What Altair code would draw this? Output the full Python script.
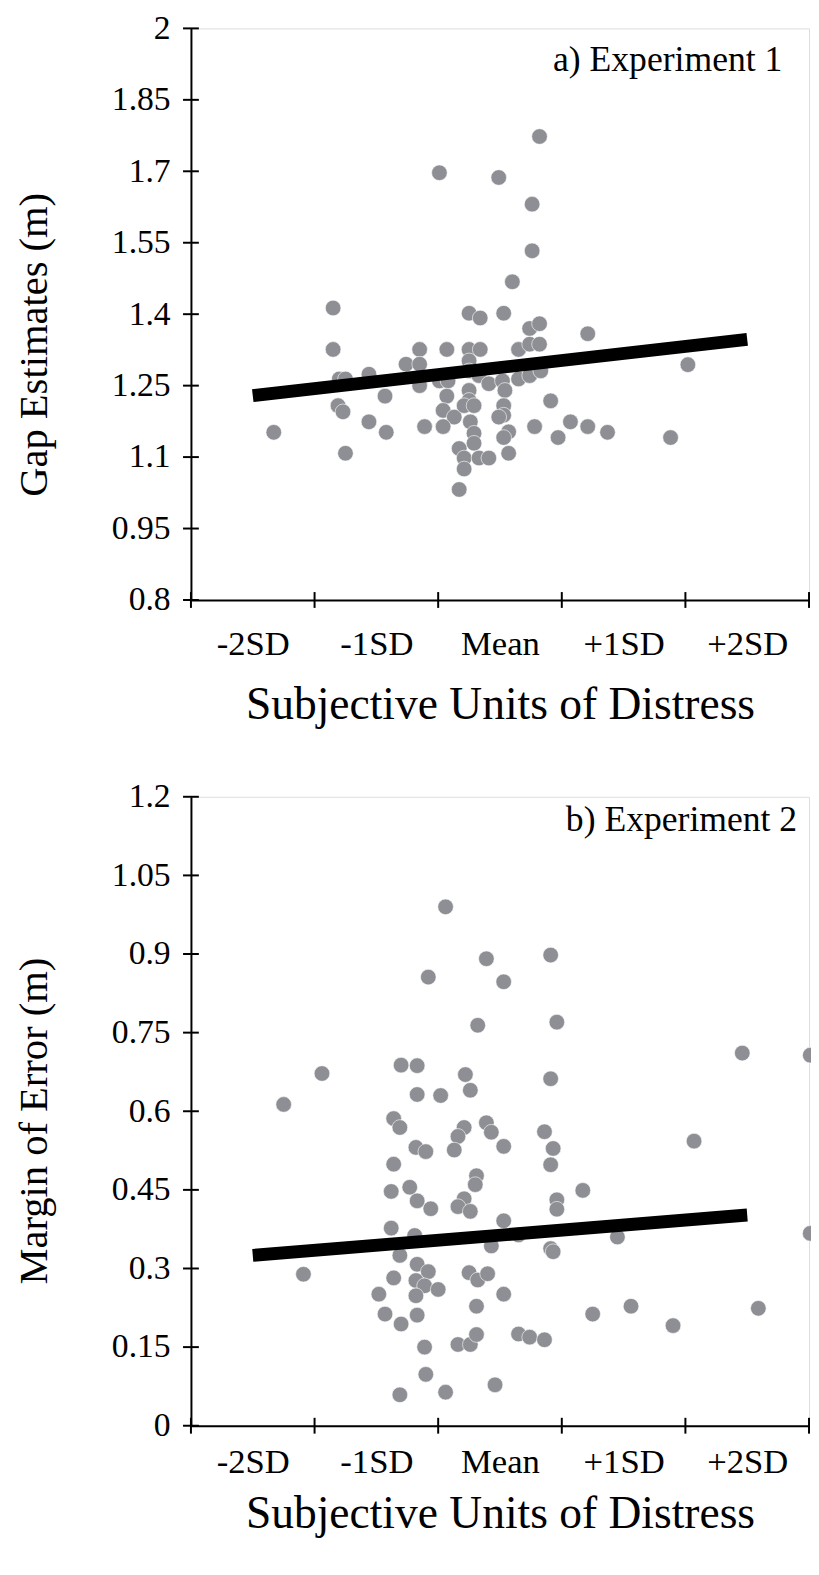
import altair as alt
import pandas as pd

# ---------------- data ----------------
exp1_sd = [-0.49, -0.01, 0.32, 0.26, 0.26, 0.10, -1.35, -0.25, -0.16, 0.03,
           0.24, 0.32, 0.71, -1.35, -0.65, -0.43, -0.25, -0.16, 0.15, 0.24,
           0.32, 1.52, -0.76, -0.65, -0.25, -1.30, -1.25, -1.06, -0.65, -0.49,
           -0.42, -0.25, -0.25, -0.25, -0.17, -0.09, 0.02, 0.04, 0.15, 0.24,
           0.33, -0.93, -0.43, 0.41, -1.31, -1.27, -1.06, -0.46, -0.37, -0.29,
           -0.21, 0.03, 0.03, -0.01, -1.83, -0.92, -0.61, -0.46, -0.24, -0.21,
           -0.21, 0.28, 0.57, 0.71, 0.87, 0.47, 1.38, 0.07, 0.03, -0.33,
           -1.25, 0.07, -0.29, -0.17, -0.09, -0.29, -0.33]
exp1_gap = [1.697, 1.687, 1.773, 1.631, 1.533, 1.468, 1.413, 1.402, 1.392, 1.402,
            1.370, 1.380, 1.359, 1.326, 1.326, 1.326, 1.326, 1.326, 1.326, 1.337,
            1.337, 1.294, 1.295, 1.295, 1.302, 1.264, 1.264, 1.274, 1.250, 1.260,
            1.260, 1.281, 1.240, 1.219, 1.271, 1.254, 1.260, 1.240, 1.264, 1.271,
            1.281, 1.228, 1.228, 1.218, 1.208, 1.195, 1.174, 1.198, 1.184, 1.208,
            1.208, 1.208, 1.188, 1.184, 1.152, 1.152, 1.164, 1.164, 1.174, 1.150,
            1.129, 1.164, 1.174, 1.164, 1.152, 1.141, 1.141, 1.153, 1.141, 1.118,
            1.108, 1.108, 1.098, 1.098, 1.098, 1.075, 1.032]

exp2_sd = [-0.44, -0.11, -0.58, 0.03, 0.41, -0.18, 0.46, 1.96, 2.51, -1.44,
           -0.80, -0.67, -0.28, 0.41, -1.75, -0.67, -0.48, -0.24, -0.86, -0.81,
           -0.29, -0.34, -0.37, -0.11, -0.07, 0.03, -0.68, -0.60, 0.36, 0.43,
           1.57, -0.86, 0.41, -0.19, -0.20, -0.73, -0.88, 0.67, -0.67, -0.56,
           -0.29, -0.34, -0.24, 0.46, 0.46, 0.03, -0.88, -0.69, 0.15, -0.07,
           0.41, 0.43, 0.95, 2.51, -0.81, -1.59, -0.67, -0.58, -0.68, -0.86,
           -0.61, -0.68, -0.50, -0.25, -0.18, -0.10, -0.98, 0.03, -0.93, -0.80,
           -0.67, -0.19, 0.75, 1.06, 1.40, 2.09, -0.61, -0.34, -0.24, -0.19,
           0.15, 0.24, 0.36, -0.60, -0.81, -0.44, -0.04]
exp2_moe = [0.990, 0.891, 0.856, 0.847, 0.898, 0.764, 0.770, 0.711, 0.707, 0.672,
            0.688, 0.687, 0.670, 0.662, 0.613, 0.632, 0.630, 0.640, 0.586, 0.569,
            0.569, 0.552, 0.526, 0.578, 0.560, 0.533, 0.531, 0.523, 0.561, 0.529,
            0.543, 0.499, 0.498, 0.477, 0.460, 0.455, 0.447, 0.449, 0.429, 0.414,
            0.433, 0.418, 0.409, 0.431, 0.413, 0.391, 0.377, 0.363, 0.364, 0.343,
            0.338, 0.332, 0.360, 0.367, 0.325, 0.289, 0.308, 0.294, 0.277, 0.282,
            0.267, 0.248, 0.260, 0.292, 0.278, 0.290, 0.251, 0.251, 0.213, 0.194,
            0.211, 0.228, 0.213, 0.228, 0.191, 0.224, 0.150, 0.155, 0.155, 0.174,
            0.175, 0.169, 0.164, 0.098, 0.059, 0.064, 0.078]

fit1_sd = [-2, 2]
fit1_gap = [1.229, 1.347]
fit2_sd = [-2, 2]
fit2_moe = [0.325, 0.402]

x_tick_pos = [-2.5, -1.5, -0.5, 0.5, 1.5, 2.5]
x_label_pos = [-2, -1, 0, 1, 2]
x_labels = ["-2SD", "-1SD", "Mean", "+1SD", "+2SD"]
y1_ticks = [0.8, 0.95, 1.1, 1.25, 1.4, 1.55, 1.7, 1.85, 2.0]
y2_ticks = [0.0, 0.15, 0.3, 0.45, 0.6, 0.75, 0.9, 1.05, 1.2]

x_title = "Subjective Units of Distress"
y1_title = "Gap Estimates (m)"
y2_title = "Margin of Error (m)"
panel1_label = "a) Experiment 1"
panel2_label = "b) Experiment 2"

# ---------------- styling ----------------
FONT = "Liberation Serif"
DOT = "#8e8f94"
W = 625

label_expr = " : ".join(
    f"datum.value == {p} ? '{t}'" for p, t in zip(x_label_pos, x_labels)
) + " : ''"


def panel(sd, vals, fit_sd, fit_vals, y_ticks, y_title, label, H,
          lab_pad, title_pad, ytitle_y, ann_x, ann_y):
    pts = pd.DataFrame({"sd": sd, "v": vals})
    fit = pd.DataFrame({"sd": fit_sd, "v": fit_vals})
    xt = pd.DataFrame({"sd": x_tick_pos})
    yt = pd.DataFrame({"v": y_ticks})
    ann = pd.DataFrame({"t": [label]})
    ytt = pd.DataFrame({"t": [y_title]})

    xs = alt.Scale(domain=[x_tick_pos[0], x_tick_pos[-1]], nice=False, zero=False)
    ys = alt.Scale(domain=[y_ticks[0], y_ticks[-1]], nice=False, zero=False)

    xaxis = alt.Axis(values=x_label_pos, labelExpr=label_expr, ticks=False,
                     tickSize=0, grid=False, domain=True, domainColor="black",
                     domainWidth=2, labelFont=FONT, labelFontSize=35,
                     labelColor="black", labelPadding=lab_pad, title=x_title,
                     titleFont=FONT, titleFontSize=46, titleFontWeight="normal",
                     titleColor="black", titlePadding=title_pad,
                     minExtent=60, maxExtent=60)
    yaxis = alt.Axis(values=y_ticks, format=".3~g", ticks=False, tickSize=0,
                     grid=False, domain=True, domainColor="black", domainWidth=2,
                     labelFont=FONT, labelFontSize=34, labelColor="black",
                     labelPadding=21, title=None)

    xenc = alt.X("sd:Q", scale=xs, axis=xaxis)
    yenc = alt.Y("v:Q", scale=ys, axis=yaxis)

    points = alt.Chart(pts).mark_circle(
        size=250, color=DOT, opacity=1, stroke="white", strokeWidth=0.6
    ).encode(x=xenc, y=yenc)
    line = alt.Chart(fit).mark_line(
        color="black", strokeWidth=13, strokeCap="butt").encode(x=xenc, y=yenc)
    yticks = alt.Chart(yt).mark_tick(
        color="black", size=16, thickness=2, opacity=1).encode(
        y=yenc, x=alt.value(0))
    xticks = alt.Chart(xt).mark_tick(
        color="black", size=16, thickness=2, opacity=1).encode(
        x=xenc, y=alt.value(H))
    text = alt.Chart(ann).mark_text(
        align="right", baseline="alphabetic", font=FONT, fontSize=36,
        color="black").encode(x=alt.value(ann_x), y=alt.value(ann_y),
                              text="t:N")
    ytitle = alt.Chart(ytt).mark_text(
        angle=270, align="center", baseline="alphabetic", font=FONT,
        fontSize=41, color="black").encode(
        x=alt.value(-146), y=alt.value(ytitle_y), text="t:N")
    return alt.layer(points, line, yticks, xticks, text, ytitle).properties(
        width=W, height=H)


pa = panel(exp1_sd, exp1_gap, fit1_sd, fit1_gap, y1_ticks, y1_title,
           panel1_label, 578, 27, 24, 320, 598, 43)
pb = panel(exp2_sd, exp2_moe, fit2_sd, fit2_moe, y2_ticks, y2_title,
           panel2_label, 636, 19, 7, 328, 613, 35)

# the two right-most dots of panel b sit on the page edge and are cut by it,
# as in the reference: the negative right padding trims the view there
chart = alt.vconcat(pa, pb, spacing=51).properties(
    padding={"left": 5, "top": -6, "right": -9, "bottom": 0}
).configure_view(stroke=None).configure(background="white")

chart.save("out.html", embed_options={"renderer": "svg", "actions": False})
